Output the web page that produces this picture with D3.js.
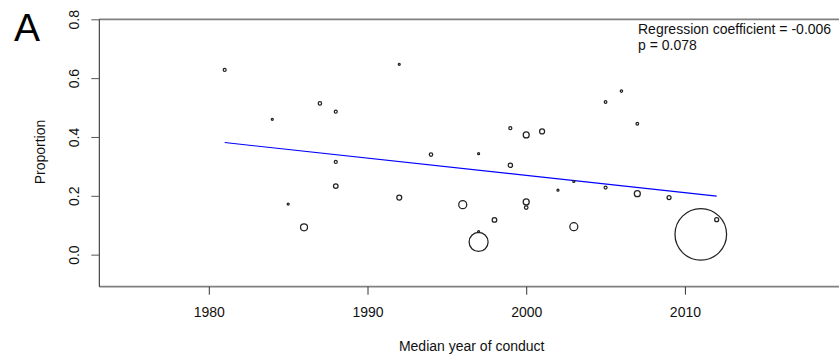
<!DOCTYPE html>
<html>
<head>
<meta charset="utf-8">
<script src="https://cdn.jsdelivr.net/npm/d3@7"></script>
<style>
  html, body { margin: 0; padding: 0; background: #fff; }
  svg { display: block; font-family: "Liberation Sans", Arial, sans-serif; }
</style>
</head>
<body>
<svg id="chart" width="839" height="358"></svg>
<script>
// median year of conduct for each study
const years = [1981, 1984, 1985, 1986, 1987, 1988, 1988, 1988, 1992, 1992, 1994,
  1996, 1997, 1997, 1997, 1998, 1999, 1999, 2000, 2000, 2000, 2001, 2002, 2003,
  2003, 2005, 2005, 2006, 2007, 2007, 2009, 2011, 2012];

// proportion reported by each study
const proportions = [0.628, 0.460, 0.172, 0.093, 0.514, 0.486, 0.315, 0.233, 0.647,
  0.194, 0.340, 0.170, 0.343, 0.078, 0.043, 0.118, 0.430, 0.304, 0.407, 0.179,
  0.160, 0.419, 0.219, 0.249, 0.095, 0.519, 0.228, 0.556, 0.445, 0.207, 0.194,
  0.069, 0.119];

// study weight (symbol area is proportional to it)
const weights = [22, 10, 10, 122, 29, 22, 22, 53, 10, 62, 29, 160, 10, 10, 902, 53,
  22, 48, 90, 90, 32, 62, 10, 10, 160, 17, 22, 14, 17, 90, 40, 6656, 40];

// fitted regression line end points
const fitYears = [1981, 2012];
const fitValues = [0.381, 0.199];

const xTicks = [1980, 1990, 2000, 2010];
const yTicks = [0, 0.2, 0.4, 0.6, 0.8];
const statLines = ['Regression coefficient = -0.006', 'p = 0.078'];

// @desc : plot region in pixels (right edge runs off the picture)
const plot = { left: 99.3, right: 846.8, top: 19.3, bottom: 286.7 };
const fontSize = 14;

const svg = d3.select('#chart');

const x = d3.scaleLinear().domain([1973.1, 2020.2]).range([plot.left, plot.right]);
const y = d3.scaleLinear().domain([-0.109, 0.8]).range([plot.bottom, plot.top]);
const r = d3.scaleSqrt().domain([0, 6656]).range([0, 25.8]);

// box around the plot region
svg.append('line')
  .attr('x1', plot.left).attr('x2', 839)
  .attr('y1', plot.top).attr('y2', plot.top)
  .attr('stroke', '#808080').attr('stroke-width', 1.8);
svg.append('line')
  .attr('x1', plot.left).attr('x2', 839)
  .attr('y1', plot.bottom).attr('y2', plot.bottom)
  .attr('stroke', '#808080').attr('stroke-width', 1.8);
svg.append('line')
  .attr('x1', plot.left).attr('x2', plot.left)
  .attr('y1', plot.top).attr('y2', plot.bottom)
  .attr('stroke', '#222').attr('stroke-width', 1);

// y axis, labels rotated like base R
const yAxis = svg.append('g')
  .attr('transform', `translate(${plot.left},0)`)
  .call(d3.axisLeft(y).tickValues(yTicks).tickFormat(d3.format('.1f'))
    .tickSize(8).tickSizeOuter(0));
yAxis.select('.domain').remove();
yAxis.selectAll('.tick line').attr('stroke', '#555');
yAxis.selectAll('.tick text')
  .attr('transform', 'rotate(-90)')
  .attr('x', 0).attr('y', -20).attr('dy', 0)
  .attr('text-anchor', 'middle')
  .attr('font-size', fontSize).attr('fill', '#111')
  .attr('font-family', '"Liberation Sans", Arial, sans-serif');

// x axis
const xAxis = svg.append('g')
  .attr('transform', `translate(0,${plot.bottom})`)
  .call(d3.axisBottom(x).tickValues(xTicks).tickFormat(d3.format('d'))
    .tickSize(8).tickSizeOuter(0));
xAxis.select('.domain').remove();
xAxis.selectAll('.tick line').attr('stroke', '#333');
xAxis.selectAll('.tick text')
  .attr('y', 30).attr('dy', 0)
  .attr('font-size', fontSize).attr('fill', '#111')
  .attr('font-family', '"Liberation Sans", Arial, sans-serif');

// axis titles
svg.append('text')
  .attr('x', 471.7).attr('y', 351)
  .attr('text-anchor', 'middle')
  .attr('font-size', fontSize).attr('fill', '#111')
  .text('Median year of conduct');

svg.append('text')
  .attr('transform', 'translate(45,152) rotate(-90)')
  .attr('text-anchor', 'middle')
  .attr('font-size', fontSize).attr('fill', '#111')
  .text('Proportion');

// panel letter
svg.append('text')
  .attr('x', 14).attr('y', 40.7)
  .attr('font-size', 39).attr('fill', '#000')
  .text('A');

// regression line
const fit = fitYears.map((d, i) => [d, fitValues[i]]);
svg.append('path')
  .datum(fit)
  .attr('d', d3.line().x(d => x(d[0])).y(d => y(d[1])))
  .attr('fill', 'none')
  .attr('stroke', '#0000ff')
  .attr('stroke-width', 1.1);

// study symbols, tiny ones read as solid dots
const points = years.map((d, i) => ({ year: d, value: proportions[i], weight: weights[i] }));
svg.append('g')
  .selectAll('circle')
  .data(points)
  .enter()
  .append('circle')
    .attr('cx', d => x(d.year))
    .attr('cy', d => y(d.value))
    .attr('r', d => r(d.weight))
    .attr('fill', 'none')
    .attr('stroke', '#222')
    .attr('stroke-width', 1.25);

// regression statistics
svg.append('g')
  .selectAll('text')
  .data(statLines)
  .enter()
  .append('text')
    .attr('x', 638)
    .attr('y', (d, i) => 34 + i * 16)
    .attr('font-size', fontSize).attr('fill', '#111')
    .text(d => d);
</script>
</body>
</html>
